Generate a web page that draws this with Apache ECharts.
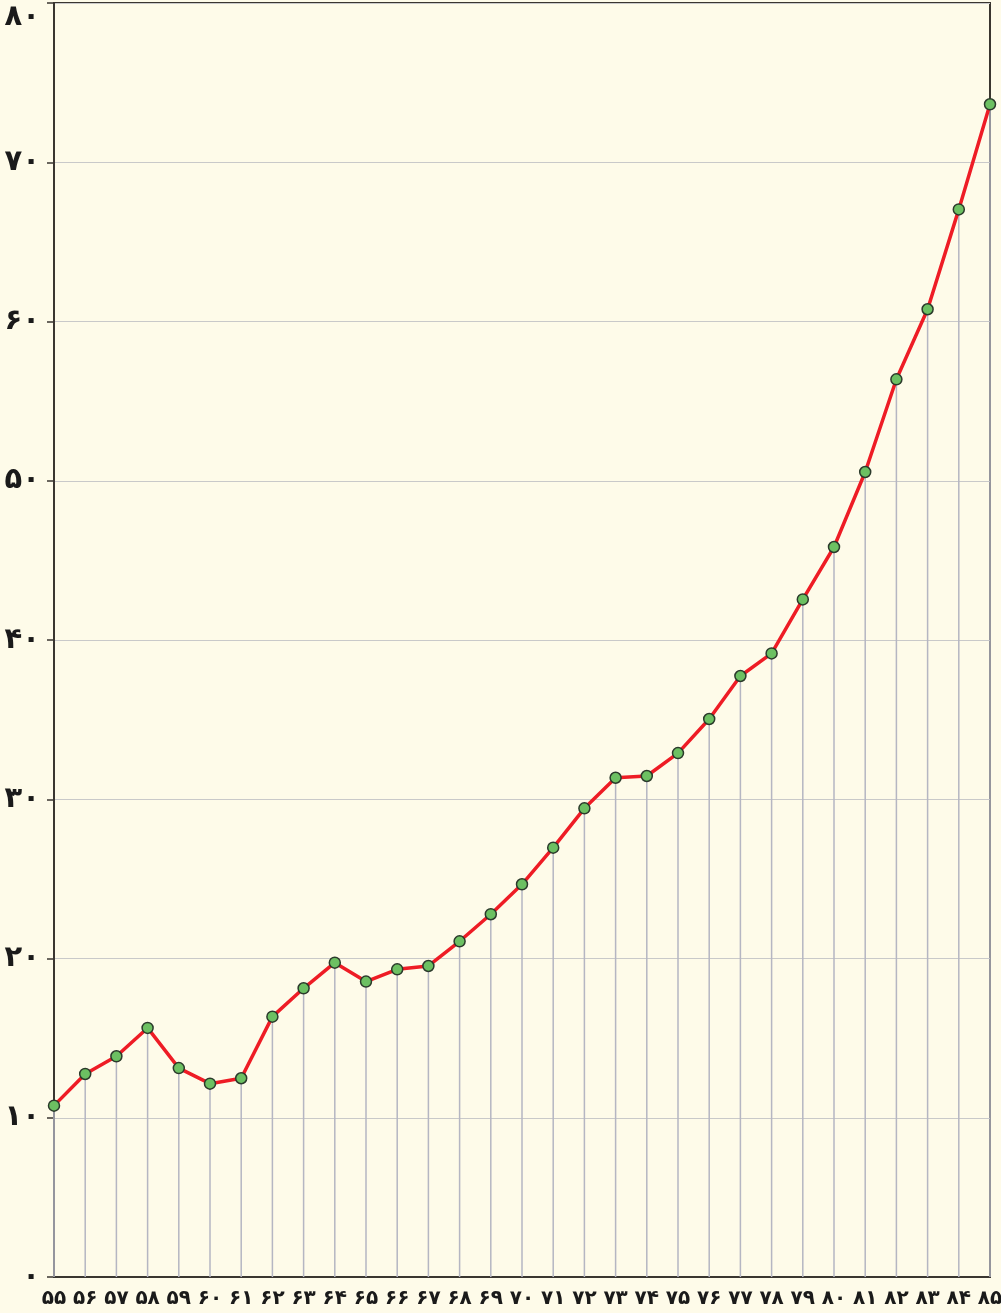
<!DOCTYPE html>
<html>
<head>
<meta charset="utf-8">
<script src="https://cdn.jsdelivr.net/npm/echarts@6/dist/echarts.min.js"></script>
<style>
  html, body { margin: 0; padding: 0; background: #fefbe9; }
  #main { width: 1001px; height: 1313px; }
</style>
</head>
<body>
<div id="main"></div>
<script>
// years 1355..1385 (Persian digits)
const years = ['۵۵','۵۶','۵۷','۵۸','۵۹','۶۰','۶۱','۶۲','۶۳','۶۴','۶۵','۶۶','۶۷','۶۸','۶۹','۷۰',
  '۷۱','۷۲','۷۳','۷۴','۷۵','۷۶','۷۷','۷۸','۷۹','۸۰','۸۱','۸۲','۸۳','۸۴','۸۵']
const values = [10.76, 12.75, 13.86, 15.64, 13.12, 12.14, 12.48, 16.35, 18.13, 19.74, 18.55, 19.32, 19.53,
  21.08, 22.78, 24.66, 26.96, 29.43, 31.35, 31.46, 32.90, 35.04, 37.74, 39.16, 42.55, 45.84,
  50.55, 56.37, 60.77, 67.04, 73.64]
const yTickLabels = {0:'۰',10:'۱۰',20:'۲۰',30:'۳۰',40:'۴۰',50:'۵۰',60:'۶۰',70:'۷۰',80:'۸۰'}

let chart = echarts.init(document.getElementById('main'))
chart.setOption({
  backgroundColor: '#fefbe9',
  animation: false,
  grid: {
    left: 54, right: 11, top: 3, bottom: 36,
    outerBoundsMode: 'none',
    containLabel: false,
    show: true,
    borderColor: '#3a3630',
    borderWidth: 2,
    backgroundColor: 'transparent'
  },
  xAxis: {
    type: 'category',
    data: years,
    boundaryGap: false,
    axisLine: { lineStyle: { color: '#3a3630', width: 2 } },
    axisTick: { show: false },
    splitLine: { show: false },
    axisLabel: {
      interval: 0,
      margin: 12,
      color: '#1a1a1a',
      fontFamily: 'DejaVu Sans',
      fontWeight: 'bold',
      fontSize: 20
    }
  },
  yAxis: {
    type: 'value',
    min: 0,
    max: 80,
    interval: 10,
    axisLine: { show: true, lineStyle: { color: '#3a3630', width: 2 } },
    axisTick: { show: true, length: 7, lineStyle: { color: '#3a3630', width: 1.5 } },
    splitLine: { show: true, lineStyle: { color: '#c9c9c9', width: 1 } },
    axisLabel: {
      margin: 14,
      color: '#1a1a1a',
      fontFamily: 'DejaVu Sans',
      fontWeight: 'bold',
      fontSize: 29,
      // top label sits just under the frame in the original
      formatter: v => v === 80 ? '{top|' + yTickLabels[v] + '}' : yTickLabels[v],
      rich: {
        top: {
          fontFamily: 'DejaVu Sans',
          fontWeight: 'bold',
          fontSize: 29,
          color: '#1a1a1a',
          padding: [28, 0, 0, 0]
        }
      }
    }
  },
  series: [
    {
      // drop lines from each point down to the axis
      type: 'bar',
      data: values,
      barWidth: 1.5,
      itemStyle: { color: '#b5b6c2' },
      silent: true,
      z: 1
    },
    {
      type: 'line',
      data: values,
      symbol: 'circle',
      symbolSize: 11,
      lineStyle: { color: '#ee1c25', width: 3.5 },
      itemStyle: { color: '#6cc062', borderColor: '#2b3a2b', borderWidth: 1.5 },
      z: 3
    }
  ]
})
</script>
</body>
</html>
